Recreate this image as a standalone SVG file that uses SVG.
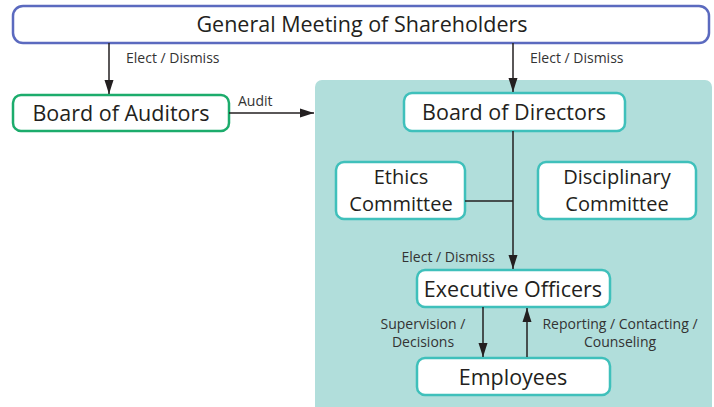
<svg xmlns="http://www.w3.org/2000/svg" width="714" height="407" viewBox="0 0 714 407">
<defs>
<marker id="ah" viewBox="0 0 14 10" refX="14" refY="5" markerWidth="14" markerHeight="10" markerUnits="userSpaceOnUse" orient="auto">
<path d="M0,0.5 L14,5 L0,9.5 z" fill="#231f20"/>
</marker>
<style>
.box{fill:#fff;stroke-width:2.5}
.t{fill:#231f20;font-family:"Open Sans","Noto Sans",sans-serif;font-size:21.5px;text-anchor:middle}
.t2{fill:#231f20;font-family:"Open Sans","Noto Sans",sans-serif;font-size:20px;text-anchor:middle}
.l{fill:#333;font-family:"Open Sans","Noto Sans",sans-serif;font-size:14px}
.c{stroke:#231f20;stroke-width:1.5;fill:none}
</style>
</defs>
<rect x="315" y="80" width="397" height="335" rx="7" fill="#b1dedb"/>
<g id="gms">
<rect class="box" x="13" y="6" width="696" height="37" rx="10" stroke="#5b6abf"/>
<text class="t" x="362" y="32">General Meeting of Shareholders</text>
</g>
<g id="auditors">
<rect class="box" x="13" y="95" width="216" height="36" rx="8" stroke="#1cac6c"/>
<text class="t" x="121" y="121">Board of Auditors</text>
</g>
<g id="directors">
<rect class="box" x="404" y="93" width="221" height="38" rx="8" stroke="#3fc0bb"/>
<text class="t" x="514" y="120">Board of Directors</text>
</g>
<g id="ethics">
<rect class="box" x="336" y="162" width="129" height="57" rx="8" stroke="#3fc0bb"/>
<text class="t2" x="401" y="183.5">Ethics</text>
<text class="t2" x="401" y="211">Committee</text>
</g>
<g id="disciplinary">
<rect class="box" x="538" y="162" width="158" height="57" rx="8" stroke="#3fc0bb"/>
<text class="t2" x="617" y="183.5">Disciplinary</text>
<text class="t2" x="617" y="211">Committee</text>
</g>
<g id="executive">
<rect class="box" x="417" y="270" width="193" height="37" rx="8" stroke="#3fc0bb"/>
<text class="t" x="513" y="297">Executive Officers</text>
</g>
<g id="employees">
<rect class="box" x="417" y="358" width="193" height="37" rx="8" stroke="#3fc0bb"/>
<text class="t" x="513" y="385">Employees</text>
</g>
<g id="connectors">
<line class="c" x1="109" y1="43" x2="109" y2="94" marker-end="url(#ah)"/>
<line class="c" x1="513" y1="43" x2="513" y2="92" marker-end="url(#ah)"/>
<line class="c" x1="229" y1="113" x2="314" y2="113" marker-end="url(#ah)"/>
<line class="c" x1="513" y1="131" x2="513" y2="269" marker-end="url(#ah)"/>
<line class="c" x1="465" y1="201" x2="513" y2="201"/>
<line class="c" x1="483" y1="307" x2="483" y2="357" marker-end="url(#ah)"/>
<line class="c" x1="527" y1="357" x2="527" y2="308" marker-end="url(#ah)"/>
<text class="l" x="126" y="63">Elect / Dismiss</text>
<text class="l" x="530" y="63">Elect / Dismiss</text>
<text class="l" x="238" y="106">Audit</text>
<text class="l" x="495" y="262" text-anchor="end">Elect / Dismiss</text>
<text class="l" x="423" y="329" text-anchor="middle">Supervision /</text>
<text class="l" x="423" y="347" text-anchor="middle">Decisions</text>
<text class="l" x="620" y="329" text-anchor="middle">Reporting / Contacting /</text>
<text class="l" x="620" y="347" text-anchor="middle">Counseling</text>
</g>
</svg>
